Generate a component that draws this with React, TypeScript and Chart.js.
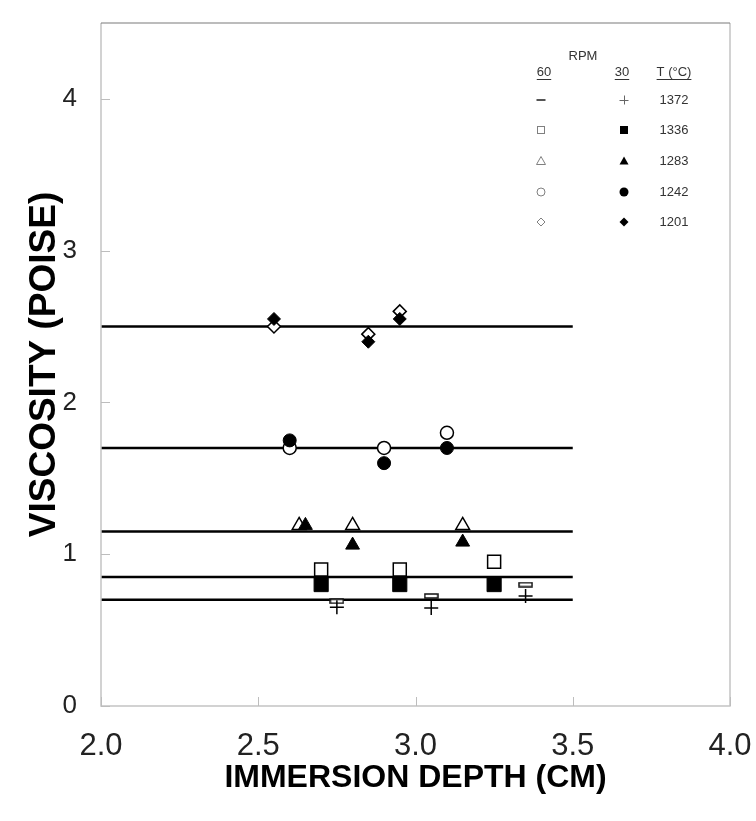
import React, { useEffect, useRef } from 'react';
import { Chart, registerables } from 'chart.js';

Chart.register(...registerables);

// ---- axes ----
const xTicks = [2.0, 2.5, 3.0, 3.5, 4.0];
const yTicks = [0, 1, 2, 3, 4];
const xRange = [2.0, 4.0];
const yRange = [0, 4.5];
const xTitle = 'IMMERSION DEPTH (CM)';
const yTitle = 'VISCOSITY (POISE)';

// ---- fitted mean lines ----
const fitLevels = [2.5, 1.7, 1.15, 0.85, 0.7];
const fitSpan = [2.0, 3.5];

// ---- legend ----
const temps = [1372, 1336, 1283, 1242, 1201];
const rpmLabels = ['60', '30'];

// ---- data: 1201 °C ----
const depth1201_60 = [2.55, 2.85, 2.95];
const visc1201_60 = [2.5, 2.45, 2.6];
const depth1201_30 = [2.55, 2.85, 2.95];
const visc1201_30 = [2.55, 2.4, 2.55];

// ---- data: 1242 °C ----
const depth1242_60 = [2.6, 2.9, 3.1];
const visc1242_60 = [1.7, 1.7, 1.8];
const depth1242_30 = [2.6, 2.9, 3.1];
const visc1242_30 = [1.75, 1.6, 1.7];

// ---- data: 1283 °C ----
const depth1283_60 = [2.63, 2.8, 3.15];
const visc1283_60 = [1.19, 1.19, 1.19];
const depth1283_30 = [2.65, 2.8, 3.15];
const visc1283_30 = [1.19, 1.06, 1.08];

// ---- data: 1336 °C ----
const depth1336_60 = [2.7, 2.95, 3.25];
const visc1336_60 = [0.9, 0.9, 0.95];
const depth1336_30 = [2.7, 2.95, 3.25];
const visc1336_30 = [0.8, 0.8, 0.8];

// ---- data: 1372 °C ----
const depth1372_60 = [2.75, 3.05, 3.35];
const visc1372_60 = [0.69, 0.725, 0.8];
const depth1372_30 = [2.75, 3.05, 3.35];
const visc1372_30 = [0.65, 0.645, 0.725];

const FONT = "'Liberation Sans', Arial, sans-serif";

function zip(xs: number[], ys: number[]) {
  return xs.map((x, i) => ({ x, y: ys[i] }));
}

function makeDash(): HTMLCanvasElement {
  const c = document.createElement('canvas');
  c.width = 15;
  c.height = 6;
  const g = c.getContext('2d')!;
  g.fillStyle = '#fff';
  g.fillRect(1, 1, 13, 4);
  g.strokeStyle = '#111';
  g.lineWidth = 1.5;
  g.strokeRect(1, 1, 13, 4);
  return c;
}

type MarkKind = 'dash' | 'plus' | 'square' | 'triangle' | 'circle' | 'diamond';
const legendKinds60: MarkKind[] = ['dash', 'square', 'triangle', 'circle', 'diamond'];
const legendKinds30: MarkKind[] = ['plus', 'square', 'triangle', 'circle', 'diamond'];

function drawMark(ctx: CanvasRenderingContext2D, kind: MarkKind, x: number, y: number, filled: boolean) {
  ctx.save();
  const col = filled ? '#000' : '#808080';
  ctx.strokeStyle = col;
  ctx.fillStyle = col;
  ctx.lineWidth = 1;
  ctx.beginPath();
  if (kind === 'dash') {
    ctx.fillStyle = '#555';
    ctx.fillRect(x - 4.5, y - 1, 9, 2);
  } else if (kind === 'plus') {
    ctx.strokeStyle = '#666';
    ctx.moveTo(x - 4.5, y + 0.5);
    ctx.lineTo(x + 4.5, y + 0.5);
    ctx.moveTo(x + 0.5, y - 4.5);
    ctx.lineTo(x + 0.5, y + 4.5);
    ctx.stroke();
  } else if (kind === 'square') {
    if (filled) ctx.fillRect(x - 4, y - 4, 8, 8);
    else ctx.strokeRect(x - 3.5, y - 3.5, 7, 7);
  } else if (kind === 'triangle') {
    ctx.moveTo(x, y - 4.5);
    ctx.lineTo(x + 4.5, y + 3.5);
    ctx.lineTo(x - 4.5, y + 3.5);
    ctx.closePath();
    filled ? ctx.fill() : ctx.stroke();
  } else if (kind === 'circle') {
    ctx.arc(x, y, filled ? 4.5 : 4, 0, Math.PI * 2);
    filled ? ctx.fill() : ctx.stroke();
  } else if (kind === 'diamond') {
    const r = filled ? 4.5 : 4;
    ctx.moveTo(x, y - r);
    ctx.lineTo(x + r, y);
    ctx.lineTo(x, y + r);
    ctx.lineTo(x - r, y);
    ctx.closePath();
    filled ? ctx.fill() : ctx.stroke();
  }
  ctx.restore();
}

const framePlugin = {
  id: 'frameAndLegend',
  afterDraw(chart: any) {
    const { ctx, chartArea: a, scales } = chart;
    ctx.save();
    // frame
    ctx.lineWidth = 1.5;
    ctx.strokeStyle = '#c4c4c4';
    ctx.beginPath();
    ctx.moveTo(a.left, a.top);
    ctx.lineTo(a.left, a.bottom);
    ctx.lineTo(a.right, a.bottom);
    ctx.lineTo(a.right, a.top);
    ctx.stroke();
    ctx.strokeStyle = '#7a7a7a';
    ctx.lineWidth = 1.2;
    ctx.beginPath();
    ctx.moveTo(a.left, a.top);
    ctx.lineTo(a.right, a.top);
    ctx.stroke();
    // inward ticks
    ctx.strokeStyle = '#bdbdbd';
    ctx.lineWidth = 1;
    ctx.beginPath();
    xTicks.forEach((v) => {
      const px = Math.round(scales.x.getPixelForValue(v)) + 0.5;
      ctx.moveTo(px, a.bottom);
      ctx.lineTo(px, a.bottom - 9);
    });
    yTicks.forEach((v) => {
      const py = Math.round(scales.y.getPixelForValue(v)) + 0.5;
      ctx.moveTo(a.left, py);
      ctx.lineTo(a.left + 9, py);
    });
    ctx.stroke();

    // legend table
    const col60 = a.right - 189;
    const col30 = a.right - 106;
    const colT = a.right - 56;
    ctx.fillStyle = '#333';
    ctx.strokeStyle = '#333';
    ctx.font = `13px ${FONT}`;
    ctx.textAlign = 'center';
    ctx.textBaseline = 'middle';
    ctx.fillText('RPM', a.right - 147, a.top + 33);
    const heads = [
      { t: rpmLabels[0], x: col60 + 3 },
      { t: rpmLabels[1], x: col30 - 2 },
      { t: 'T (°C)', x: colT },
    ];
    ctx.lineWidth = 1;
    heads.forEach((h) => {
      ctx.fillText(h.t, h.x, a.top + 49);
      const w = ctx.measureText(h.t).width;
      ctx.beginPath();
      ctx.moveTo(h.x - w / 2, a.top + 56.5);
      ctx.lineTo(h.x + w / 2, a.top + 56.5);
      ctx.stroke();
    });
    const rowY = [77, 107, 138, 169, 199];
    temps.forEach((t, i) => {
      const y = a.top + rowY[i];
      drawMark(ctx, legendKinds60[i], col60, y, false);
      drawMark(ctx, legendKinds30[i], col30, y, true);
      ctx.fillStyle = '#333';
      ctx.font = `13px ${FONT}`;
      ctx.textAlign = 'center';
      ctx.fillText(String(t), colT, y);
    });
    ctx.restore();
  },
};

export default function App() {
  const ref = useRef<HTMLCanvasElement | null>(null);

  useEffect(() => {
    document.body.style.margin = '0';
    const canvas = ref.current!;
    const dash = makeDash();

    const lineSets = fitLevels.map((lv) => ({
      data: fitSpan.map((x) => ({ x, y: lv })),
      showLine: true,
      borderColor: '#000',
      borderWidth: 2.5,
      pointRadius: 0,
      order: 3,
    }));

    const open = (data: any[], style: any, r: number) => ({
      data,
      pointStyle: style,
      pointRadius: r,
      pointBackgroundColor: '#fff',
      pointBorderColor: '#000',
      pointBorderWidth: 1.5,
      showLine: false,
      order: 2,
    });
    const solid = (data: any[], style: any, r: number, bw = 1) => ({
      data,
      pointStyle: style,
      pointRadius: r,
      pointBackgroundColor: '#000',
      pointBorderColor: '#000',
      pointBorderWidth: bw,
      showLine: false,
      order: 1,
    });

    const chart = new Chart(canvas, {
      type: 'scatter',
      data: {
        datasets: [
          ...lineSets,
          open(zip(depth1201_60, visc1201_60), 'rectRot', 6.5),
          open(zip(depth1242_60, visc1242_60), 'circle', 6.5),
          open(zip(depth1283_60, visc1283_60), 'triangle', 8),
          open(zip(depth1336_60, visc1336_60), 'rect', 9.2),
          open(zip(depth1372_60, visc1372_60), dash, 7),
          solid(zip(depth1201_30, visc1201_30), 'rectRot', 6.5),
          solid(zip(depth1242_30, visc1242_30), 'circle', 6.5),
          solid(zip(depth1283_30, visc1283_30), 'triangle', 8),
          solid(zip(depth1336_30, visc1336_30), 'rect', 10),
          solid(zip(depth1372_30, visc1372_30), 'cross', 7, 1.5),
        ] as any,
      },
      options: {
        responsive: false,
        animation: false,
        layout: { padding: { top: 23, right: 26, left: 0, bottom: 0 } },
        plugins: { legend: { display: false }, tooltip: { enabled: false } },
        scales: {
          x: {
            type: 'linear',
            position: 'bottom',
            min: xRange[0],
            max: xRange[1],
            afterBuildTicks: (s: any) => {
              s.ticks = xTicks.map((v) => ({ value: v }));
            },
            afterFit: (s: any) => {
              s.height = 115;
              s.paddingLeft = 0;
              s.paddingRight = 0;
              s.paddingTop = 0;
              s.paddingBottom = 0;
            },
            grid: { display: false, drawTicks: false },
            border: { display: false },
            ticks: {
              autoSkip: false,
              maxRotation: 0,
              padding: 22,
              color: '#222',
              font: { family: FONT, size: 31 },
              callback: (v: any) => Number(v).toFixed(1),
            },
            title: {
              display: true,
              text: xTitle,
              color: '#000',
              font: { family: FONT, size: 32, weight: 'bold' },
              padding: { top: 0, bottom: 24 },
            },
          },
          y: {
            type: 'linear',
            min: yRange[0],
            max: yRange[1],
            afterBuildTicks: (s: any) => {
              s.ticks = yTicks.map((v) => ({ value: v }));
            },
            afterFit: (s: any) => {
              s.width = 101;
              s.paddingLeft = 0;
              s.paddingRight = 0;
              s.paddingTop = 0;
              s.paddingBottom = 0;
            },
            grid: { display: false, drawTicks: false },
            border: { display: false },
            ticks: {
              padding: 24,
              color: '#222',
              font: { family: FONT, size: 26 },
              callback: (v: any) => String(v),
            },
            title: {
              display: true,
              text: yTitle,
              color: '#000',
              font: { family: FONT, size: 37, weight: 'bold' },
              padding: { top: 23, bottom: 0 },
            },
          },
        },
      } as any,
      plugins: [framePlugin],
    });
    return () => chart.destroy();
  }, []);

  return <canvas ref={ref} width={756} height={821} style={{ display: 'block' }} />;
}
